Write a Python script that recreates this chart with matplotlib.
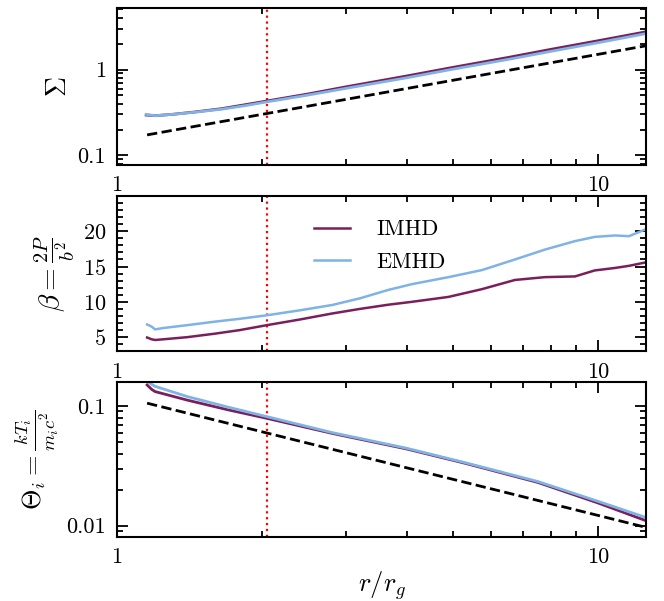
import numpy as np
import matplotlib
matplotlib.use('Agg')
import matplotlib.pyplot as plt
from matplotlib import ticker

plt.rcParams['font.family'] = 'serif'
plt.rcParams['font.serif'] = ['cmr10', 'DejaVu Serif']
plt.rcParams['mathtext.fontset'] = 'cm'
plt.rcParams['axes.unicode_minus'] = False
plt.rcParams['axes.formatter.use_mathtext'] = True

# 半径坐标 r/r_g
r_sigma = [1.15, 1.2, 1.3, 1.45, 1.65, 1.85, 2.05, 2.5, 3, 4, 5, 6.5, 8, 10, 12.6]
sigma_imhd = [0.295, 0.29, 0.30, 0.32, 0.35, 0.39, 0.43, 0.52, 0.63, 0.84, 1.06, 1.38, 1.72, 2.16, 2.75]
sigma_emhd = [0.30, 0.29, 0.30, 0.318, 0.345, 0.38, 0.42, 0.505, 0.605, 0.80, 1.01, 1.31, 1.63, 2.05, 2.62]

r_beta = [1.155, 1.18, 1.2, 1.25, 1.4, 1.6, 1.8, 2.05, 2.4, 2.8, 3.2, 3.67, 4.1, 4.89, 5.74, 6.72,
          7.76, 8.96, 9.85, 10.85, 11.6, 12.6]
beta_imhd = [4.95, 4.7, 4.6, 4.7, 5.0, 5.5, 6.0, 6.7, 7.5, 8.35, 9.0, 9.6, 10.0, 10.7, 11.8, 13.1,
             13.5, 13.6, 14.45, 14.8, 15.1, 15.6]
beta_emhd = [6.8, 6.5, 6.1, 6.3, 6.7, 7.2, 7.6, 8.1, 8.8, 9.55, 10.5, 11.7, 12.5, 13.5, 14.5, 16.0,
             17.4, 18.6, 19.2, 19.4, 19.3, 20.3]
beta_ticks = [5, 10, 15, 20]

r_theta = [1.155, 1.18, 1.2, 1.4, 1.7, 2.05, 2.8, 4.0, 5.3, 7.5, 10, 12.6]
theta_imhd = [0.150, 0.138, 0.132, 0.112, 0.093, 0.0789, 0.0591, 0.0438, 0.0332, 0.0230, 0.0155, 0.0110]
theta_emhd = [0.162, 0.152, 0.146, 0.120, 0.098, 0.0815, 0.0600, 0.0444, 0.0336, 0.0234, 0.0160, 0.0117]

# 参考幂律
r_ref = [1.155, 12.6]
sigma_ref_coef = 0.15
theta_ref_coef = 0.122
r_mark = 2.05

c_imhd = '#7a1f5c'
c_emhd = '#7fb2e5'

fig = plt.figure(figsize=(6.64, 6.01), dpi=100)
left, width = 0.1762, 0.797
ax1 = fig.add_axes([left, 0.726, width, 0.2607])
ax2 = fig.add_axes([left, 0.4155, width, 0.2585])
ax3 = fig.add_axes([left, 0.107, width, 0.257])

def fmt(v, pos):
    return '%g' % v

for ax in (ax1, ax2, ax3):
    ax.set_xscale('log')
    ax.set_xlim(1, 12.6)
    ax.xaxis.set_major_formatter(ticker.FuncFormatter(fmt))
    ax.xaxis.set_minor_formatter(ticker.NullFormatter())
    ax.tick_params(which='both', direction='in', top=True, right=True, labelsize=16, width=1.3)
    ax.tick_params(which='major', length=8, pad=8)
    ax.tick_params(which='minor', length=4)
    for s in ax.spines.values():
        s.set_linewidth(1.5)
    ax.axvline(r_mark, color='red', ls=':', lw=1.6)

# Sigma
rr = np.array(r_ref)
ax1.plot(r_sigma, sigma_imhd, color=c_imhd, lw=2)
ax1.plot(r_sigma, sigma_emhd, color=c_emhd, lw=2)
ax1.plot(rr, sigma_ref_coef * rr, 'k--', lw=2)
ax1.set_yscale('log')
ax1.set_ylim(0.078, 5.2)
ax1.yaxis.set_major_formatter(ticker.FuncFormatter(fmt))
ax1.yaxis.set_minor_formatter(ticker.NullFormatter())
ax1.set_ylabel(r'$\Sigma$', fontsize=20)

# beta
ax2.plot(r_beta, beta_imhd, color=c_imhd, lw=1.8, label='IMHD')
ax2.plot(r_beta, beta_emhd, color=c_emhd, lw=1.8, label='EMHD')
ax2.set_ylim(3, 25)
ax2.set_yticks(beta_ticks)
ax2.yaxis.set_minor_locator(ticker.MultipleLocator(1))
ax2.set_ylabel(r'$\beta = \frac{2P}{b^2}$', fontsize=21)
ax2.legend(loc='upper left', bbox_to_anchor=(0.335, 0.975), frameon=False, fontsize=16,
           handlelength=1.6, handletextpad=1.2, labelspacing=0.6)

# Theta
ax3.plot(r_theta, theta_imhd, color=c_imhd, lw=2)
ax3.plot(r_theta, theta_emhd, color=c_emhd, lw=2)
ax3.plot(rr, theta_ref_coef / rr, 'k--', lw=2)
ax3.set_yscale('log')
ax3.set_ylim(0.0081, 0.158)
ax3.yaxis.set_major_formatter(ticker.FuncFormatter(fmt))
ax3.yaxis.set_minor_formatter(ticker.NullFormatter())
ax3.set_ylabel(r'$\Theta_i = \frac{kT_i}{m_i c^2}$', fontsize=19)
ax3.set_xlabel(r'$r/r_g$', fontsize=19, labelpad=1)

fig.savefig('out.png', dpi=100)
